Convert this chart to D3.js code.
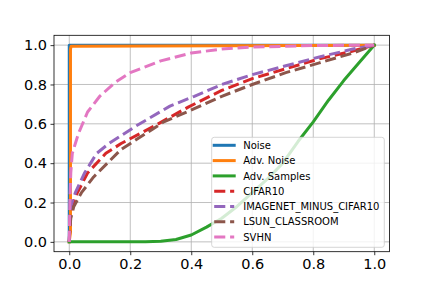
<!DOCTYPE html>
<html>
<head>
<meta charset="utf-8">
<script src="https://cdn.jsdelivr.net/npm/d3@7"></script>
<style>
  body { margin: 0; background: #fff; }
  svg { display: block; font-family: "DejaVu Sans", sans-serif; }
</style>
</head>
<body>
<svg width="432" height="288"></svg>
<script>
// ROC curves: [false positive rate, true positive rate]
const noise = [[0, 0], [0, 1], [1, 1]];
const advNoise = [[0, 0], [0.004, 0.05], [0.004, 0.98], [0.006, 0.994], [1, 1]];
const advSamples = [[0, 0], [0.25, 0.001], [0.3, 0.003], [0.35, 0.012], [0.4, 0.035], [0.45, 0.075],
    [0.5, 0.12], [0.55, 0.18], [0.6, 0.25], [0.65, 0.32], [0.7, 0.40], [0.75, 0.51], [0.8, 0.61],
    [0.85, 0.72], [0.9, 0.82], [0.95, 0.91], [1, 1]];
const cifar10 = [[0, 0], [0.002, 0.08], [0.005, 0.15], [0.02, 0.23], [0.03, 0.26], [0.06, 0.35],
    [0.12, 0.45], [0.17, 0.5], [0.28, 0.59], [0.39, 0.685], [0.5, 0.77], [0.6, 0.83], [0.71, 0.88],
    [0.82, 0.93], [0.93, 0.97], [1, 1]];
const imagenet = [[0, 0], [0.002, 0.1], [0.005, 0.18], [0.02, 0.25], [0.05, 0.35], [0.09, 0.45],
    [0.13, 0.5], [0.22, 0.59], [0.33, 0.69], [0.41, 0.74], [0.5, 0.80], [0.6, 0.85], [0.71, 0.895],
    [0.82, 0.94], [0.93, 0.98], [1, 1]];
const lsun = [[0, 0], [0.002, 0.07], [0.005, 0.12], [0.015, 0.18], [0.04, 0.25], [0.08, 0.33],
    [0.17, 0.47], [0.21, 0.51], [0.31, 0.61], [0.41, 0.677], [0.5, 0.74], [0.6, 0.80], [0.71, 0.86],
    [0.82, 0.91], [0.93, 0.96], [1, 1]];
const svhn = [[0, 0], [0.002, 0.2], [0.005, 0.35], [0.01, 0.45], [0.03, 0.55], [0.06, 0.66],
    [0.1, 0.74], [0.15, 0.81], [0.2, 0.86], [0.3, 0.92], [0.4, 0.96], [0.5, 0.98], [0.6, 0.99],
    [0.8, 0.998], [1, 1]];

const seriesNames = ["Noise", "Adv. Noise", "Adv. Samples", "CIFAR10",
    "IMAGENET_MINUS_CIFAR10", "LSUN_CLASSROOM", "SVHN"];
const seriesData = [noise, advNoise, advSamples, cifar10, imagenet, lsun, svhn];
const seriesColors = ["#1f77b4", "#ff7f0e", "#2ca02c", "#d62728", "#9467bd", "#8c564b", "#e377c2"];
const seriesDashed = [false, false, false, true, true, true, true];
const tickValues = [0, 0.2, 0.4, 0.6, 0.8, 1.0];

const svg = d3.select("svg");

// plot area, as in the reference
const plotLeft = 54, plotRight = 389.5, plotTop = 35.3, plotBottom = 251.7;

const x = d3.scaleLinear().domain([-0.05, 1.05]).range([plotLeft, plotRight]);
const y = d3.scaleLinear().domain([-0.05, 1.05]).range([plotBottom, plotTop]);

// grid lines
const grid = svg.append("g");
grid.selectAll(".vgrid")
    .data(tickValues)
    .enter()
    .append("line")
    .attr("x1", d => x(d)).attr("x2", d => x(d))
    .attr("y1", plotTop).attr("y2", plotBottom)
    .attr("stroke", "#b0b0b0")
    .attr("stroke-width", 0.8);
grid.selectAll(".hgrid")
    .data(tickValues)
    .enter()
    .append("line")
    .attr("y1", d => y(d)).attr("y2", d => y(d))
    .attr("x1", plotLeft).attr("x2", plotRight)
    .attr("stroke", "#b0b0b0")
    .attr("stroke-width", 0.8);

// axes
const fmt = d3.format(".1f");
const xAxis = svg.append("g")
    .attr("transform", `translate(0, ${plotBottom})`)
    .call(d3.axisBottom(x).tickValues(tickValues).tickFormat(fmt).tickSize(3.5).tickPadding(3.5));
const yAxis = svg.append("g")
    .attr("transform", `translate(${plotLeft}, 0)`)
    .call(d3.axisLeft(y).tickValues(tickValues).tickFormat(fmt).tickSize(3.5).tickPadding(3.5));

[xAxis, yAxis].forEach(a => {
    a.select(".domain").remove();
    a.selectAll("line").attr("stroke", "#000").attr("stroke-width", 0.8);
    a.selectAll("text")
        .attr("font-family", "DejaVu Sans")
        .attr("font-size", "14.5px")
        .attr("fill", "#000");
});

// curves
const line = d3.line()
    .x(d => x(d[0]))
    .y(d => y(d[1]));

const curves = svg.append("g");
seriesData.forEach((data, i) => {
    curves.append("path")
        .datum(data)
        .attr("d", line)
        .attr("fill", "none")
        .attr("stroke", seriesColors[i])
        .attr("stroke-width", 3)
        .attr("stroke-linecap", seriesDashed[i] ? "butt" : "square")
        .attr("stroke-linejoin", "round")
        .attr("stroke-dasharray", seriesDashed[i] ? "11.1,4.8" : null);
});

// spines
svg.append("rect")
    .attr("x", plotLeft).attr("y", plotTop)
    .attr("width", plotRight - plotLeft).attr("height", plotBottom - plotTop)
    .attr("fill", "none")
    .attr("stroke", "#000")
    .attr("stroke-width", 0.8);

// legend
const legend = svg.append("g")
    .attr("transform", "translate(211.7, 137.3)");

legend.append("rect")
    .attr("width", 172.6)
    .attr("height", 110)
    .attr("rx", 2.5)
    .attr("fill", "#fff")
    .attr("fill-opacity", 0.8)
    .attr("stroke", "#cccccc")
    .attr("stroke-width", 0.8);

const rows = legend.selectAll(".legend-row")
    .data(seriesNames)
    .enter()
    .append("g")
    .attr("transform", (d, i) => `translate(0, ${8 + i * 15.3})`);

rows.append("line")
    .attr("x1", 2.5).attr("x2", 22.5)
    .attr("y1", 0).attr("y2", 0)
    .attr("stroke", (d, i) => seriesColors[i])
    .attr("stroke-width", 3)
    .attr("stroke-linecap", (d, i) => seriesDashed[i] ? "butt" : "square")
    .attr("stroke-dasharray", (d, i) => seriesDashed[i] ? "11.1,4.8" : null);

rows.append("text")
    .attr("x", 31.5)
    .attr("y", 3.6)
    .attr("font-size", "10px")
    .attr("fill", "#000")
    .text(d => d);
</script>
</body>
</html>
